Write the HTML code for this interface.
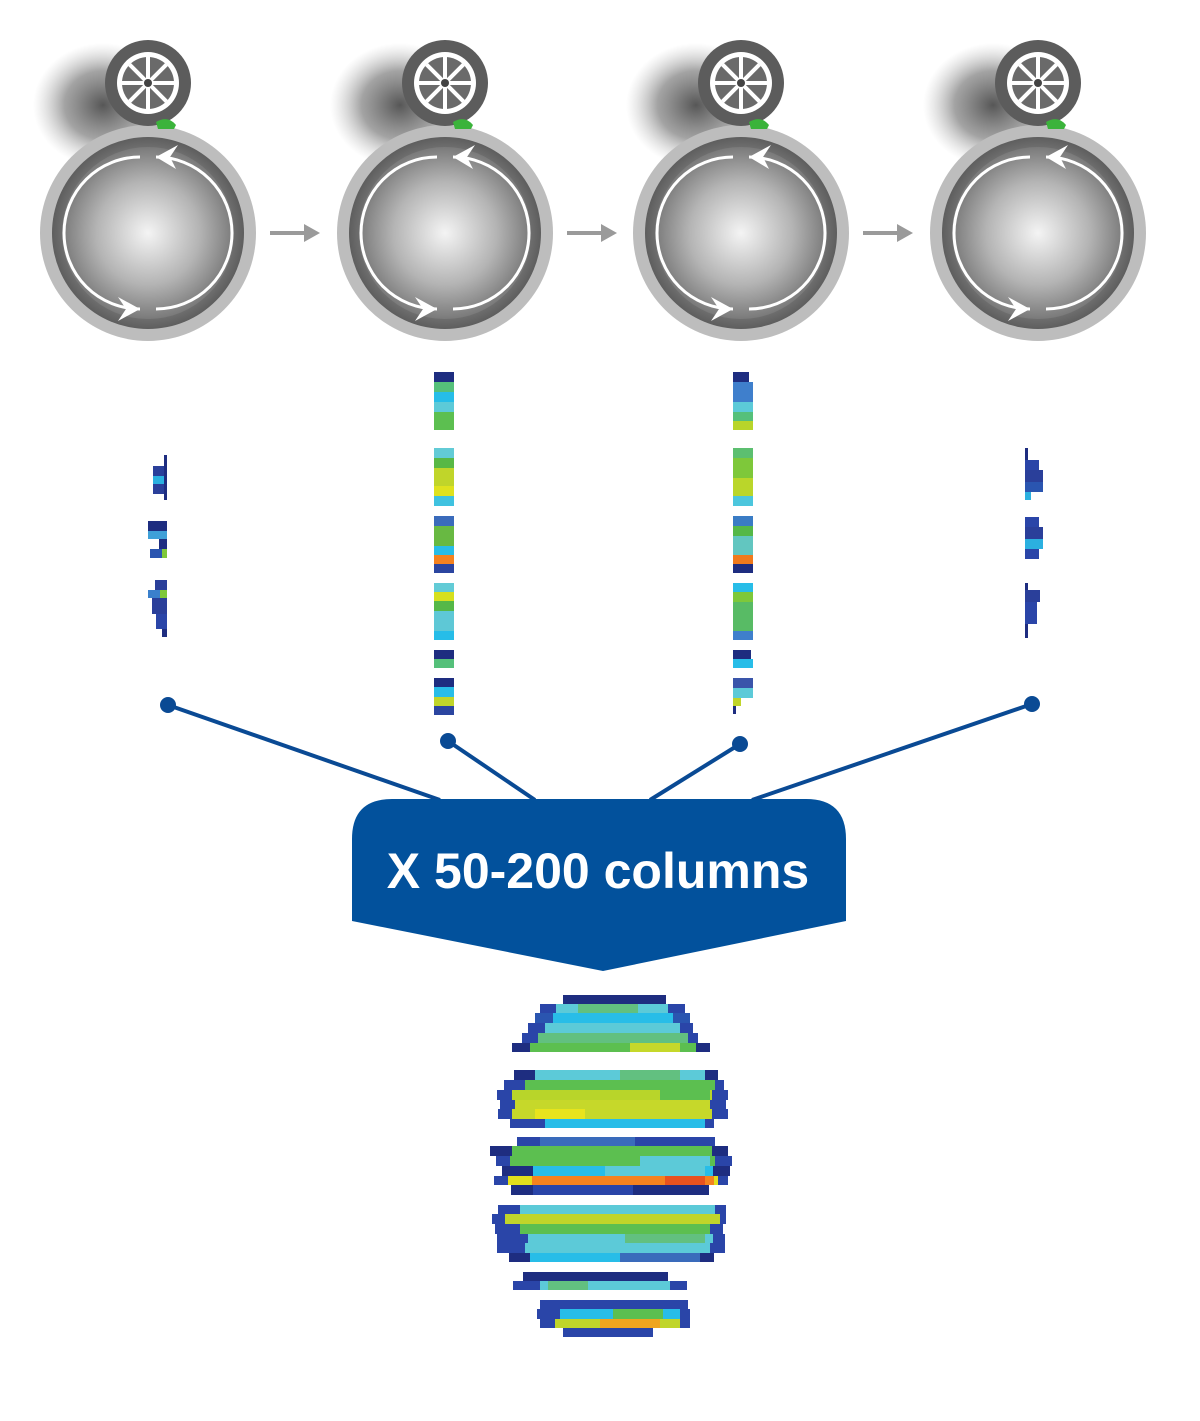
<!DOCTYPE html>
<html><head><meta charset="utf-8"><style>
html,body{margin:0;padding:0;background:#fff;}
svg{display:block}
</style></head><body>
<svg width="1200" height="1421" viewBox="0 0 1200 1421" xmlns="http://www.w3.org/2000/svg">
<defs>
<radialGradient id="core" cx="0.5" cy="0.5" r="0.5">
<stop offset="0" stop-color="#f4f4f4"/><stop offset="0.6" stop-color="#b4b4b4"/><stop offset="1" stop-color="#7a7a7a"/>
</radialGradient>
<radialGradient id="ring" cx="0.5" cy="0.5" r="0.5">
<stop offset="0.7" stop-color="#8a8a8a"/><stop offset="1" stop-color="#5e5e5e"/>
</radialGradient>
<radialGradient id="shadow" cx="0.5" cy="0.5" r="0.5">
<stop offset="0" stop-color="#444" stop-opacity="0.9"/><stop offset="0.55" stop-color="#666" stop-opacity="0.6"/><stop offset="1" stop-color="#aaa" stop-opacity="0"/>
</radialGradient>
<g id="drum">
<ellipse cx="-45" cy="-128" rx="70" ry="62" fill="url(#shadow)"/>
<circle cx="0" cy="0" r="108" fill="#bdbdbd"/>
<circle cx="0" cy="0" r="96" fill="url(#ring)"/>
<circle cx="0" cy="0" r="86" fill="url(#core)"/>
<path d="M -8 -76 A 76 76 0 1 0 -8 76" fill="none" stroke="#fff" stroke-width="3"/>
<path d="M 8 76 A 76 76 0 0 0 8 -76" fill="none" stroke="#fff" stroke-width="3"/>
<polygon points="8,-76 30,-88 22,-76 28,-64" fill="#fff"/>
<polygon points="-8,76 -30,64 -22,76 -30,88" fill="#fff"/>
<circle cx="0" cy="-150" r="43" fill="#5c5c5c"/>
<path d="M 8 -111 Q 20 -118 28 -108 L 26 -104 L 10 -104 Z" fill="#3bb33b"/>
<circle cx="0" cy="-150" r="31" fill="#fff"/>
<circle cx="0" cy="-150" r="26" fill="#6a6a6a"/>
<g stroke="#fff" stroke-width="4">
<line x1="0" y1="-176" x2="0" y2="-124"/><line x1="-26" y1="-150" x2="26" y2="-150"/>
<line x1="-18.4" y1="-168.4" x2="18.4" y2="-131.6"/><line x1="18.4" y1="-168.4" x2="-18.4" y2="-131.6"/>
</g>
<circle cx="0" cy="-150" r="4" fill="#444"/>
</g>
<g id="arr"><rect x="0" y="-2" width="38" height="4" fill="#9a9a9a"/><polygon points="34,-9 50,0 34,9" fill="#9a9a9a"/></g>
</defs>

<use href="#drum" x="148" y="233"/>
<use href="#drum" x="445" y="233"/>
<use href="#drum" x="741" y="233"/>
<use href="#drum" x="1038" y="233"/>
<use href="#arr" x="270" y="233"/>
<use href="#arr" x="567" y="233"/>
<use href="#arr" x="863" y="233"/>

<!-- column 2 -->
<g>
<rect x="434" y="372" width="20" height="10" fill="#1e2d80"/>
<rect x="434" y="382" width="20" height="10" fill="#55c07a"/>
<rect x="434" y="392" width="20" height="10" fill="#26bde8"/>
<rect x="434" y="402" width="20" height="10" fill="#5ccad8"/>
<rect x="434" y="412" width="20" height="18" fill="#5cbf50"/>
<rect x="434" y="448" width="20" height="10" fill="#62cbd6"/>
<rect x="434" y="458" width="20" height="10" fill="#58b845"/>
<rect x="434" y="468" width="20" height="18" fill="#c0d52a"/>
<rect x="434" y="486" width="20" height="10" fill="#dfe21e"/>
<rect x="434" y="496" width="20" height="10" fill="#3fc2e0"/>
<rect x="434" y="516" width="20" height="10" fill="#3a6bbb"/>
<rect x="434" y="526" width="20" height="20" fill="#68b942"/>
<rect x="434" y="546" width="20" height="9" fill="#28bde8"/>
<rect x="434" y="555" width="20" height="9" fill="#f5821f"/>
<rect x="434" y="564" width="20" height="9" fill="#2b45a0"/>
<rect x="434" y="583" width="20" height="9" fill="#62cbd6"/>
<rect x="434" y="592" width="20" height="9" fill="#d6e01e"/>
<rect x="434" y="601" width="20" height="10" fill="#55b848"/>
<rect x="434" y="611" width="20" height="20" fill="#5ec8d6"/>
<rect x="434" y="631" width="20" height="9" fill="#26bde8"/>
<rect x="434" y="650" width="20" height="9" fill="#1e2d80"/>
<rect x="434" y="659" width="20" height="9" fill="#55c07a"/>
<rect x="434" y="678" width="20" height="9" fill="#1e2d80"/>
<rect x="434" y="687" width="20" height="10" fill="#28bde8"/>
<rect x="434" y="697" width="20" height="9" fill="#c0d52a"/>
<rect x="434" y="706" width="20" height="9" fill="#2b45a0"/>
</g>
<!-- column 3 -->
<g>
<rect x="733" y="372" width="16" height="10" fill="#1e2d80"/>
<rect x="733" y="382" width="20" height="20" fill="#3f7fcc"/>
<rect x="733" y="402" width="20" height="10" fill="#5ccad8"/>
<rect x="733" y="412" width="20" height="9" fill="#55c07a"/>
<rect x="733" y="421" width="20" height="9" fill="#b8d52a"/>
<rect x="733" y="448" width="20" height="10" fill="#5cbf70"/>
<rect x="733" y="458" width="20" height="20" fill="#7ec83a"/>
<rect x="733" y="478" width="20" height="18" fill="#bad62a"/>
<rect x="733" y="496" width="20" height="10" fill="#4cc6dd"/>
<rect x="733" y="516" width="20" height="10" fill="#3a7cc5"/>
<rect x="733" y="526" width="20" height="10" fill="#55b848"/>
<rect x="733" y="536" width="20" height="19" fill="#62c6c0"/>
<rect x="733" y="555" width="20" height="9" fill="#f07a1c"/>
<rect x="733" y="564" width="20" height="9" fill="#1e2d80"/>
<rect x="733" y="583" width="20" height="9" fill="#28bde8"/>
<rect x="733" y="592" width="20" height="10" fill="#7ec83a"/>
<rect x="733" y="602" width="20" height="29" fill="#58bb65"/>
<rect x="733" y="631" width="20" height="9" fill="#3f7fcc"/>
<rect x="733" y="650" width="18" height="9" fill="#1e2d80"/>
<rect x="733" y="659" width="20" height="9" fill="#28bde8"/>
<rect x="733" y="678" width="20" height="10" fill="#3a55aa"/>
<rect x="733" y="688" width="20" height="10" fill="#5ccad8"/>
<rect x="733" y="698" width="8" height="8" fill="#c0d52a"/>
<rect x="733" y="706" width="3" height="8" fill="#1e2d80"/>
</g>
<!-- column 1 -->
<g>
<rect x="153" y="466" width="14" height="10" fill="#2a3f9a"/>
<rect x="153" y="476" width="14" height="8" fill="#2bb0e0"/>
<rect x="153" y="484" width="14" height="10" fill="#2a3f9a"/>
<rect x="164" y="455" width="3" height="45" fill="#1e2d80"/>
<rect x="148" y="521" width="19" height="10" fill="#1e2d80"/>
<rect x="148" y="531" width="19" height="8" fill="#3fa0d8"/>
<rect x="159" y="539" width="8" height="10" fill="#1e2d80"/>
<rect x="150" y="549" width="17" height="9" fill="#2a55b0"/>
<rect x="162" y="549" width="5" height="9" fill="#7ec83a"/>
<rect x="155" y="580" width="12" height="10" fill="#2a3f9a"/>
<rect x="148" y="590" width="19" height="8" fill="#3a80cc"/>
<rect x="160" y="590" width="7" height="8" fill="#7ec83a"/>
<rect x="152" y="598" width="15" height="16" fill="#2a3f9a"/>
<rect x="156" y="614" width="11" height="15" fill="#2a45a8"/>
<rect x="162" y="629" width="5" height="8" fill="#1e2d80"/>
</g>
<!-- column 4 -->
<g>
<rect x="1025" y="448" width="3" height="40" fill="#1e2d80"/>
<rect x="1025" y="460" width="14" height="10" fill="#2a45a8"/>
<rect x="1025" y="470" width="18" height="12" fill="#2a3f9a"/>
<rect x="1025" y="482" width="18" height="10" fill="#2a55b0"/>
<rect x="1025" y="492" width="6" height="8" fill="#2bb0e0"/>
<rect x="1025" y="517" width="14" height="10" fill="#2a45a8"/>
<rect x="1025" y="527" width="18" height="12" fill="#2a3f9a"/>
<rect x="1025" y="539" width="18" height="10" fill="#2bb0e0"/>
<rect x="1025" y="549" width="14" height="10" fill="#2a45a8"/>
<rect x="1025" y="583" width="3" height="55" fill="#1e2d80"/>
<rect x="1025" y="590" width="15" height="12" fill="#2a3f9a"/>
<rect x="1025" y="602" width="12" height="22" fill="#2a45a8"/>
</g>

<!-- connectors -->
<g stroke="#0a4a94" stroke-width="4">
<line x1="168" y1="705" x2="440" y2="800"/>
<line x1="448" y1="741" x2="535" y2="800"/>
<line x1="740" y1="744" x2="650" y2="800"/>
<line x1="1032" y1="704" x2="752" y2="800"/>
</g>
<g fill="#0a4a94">
<circle cx="168" cy="705" r="8"/><circle cx="448" cy="741" r="8"/>
<circle cx="740" cy="744" r="8"/><circle cx="1032" cy="704" r="8"/>
</g>
<path d="M 392 799 L 806 799 Q 846 799 846 839 L 846 921 L 603 971 L 352 921 L 352 839 Q 352 799 392 799 Z" fill="#02519c"/>
<text x="598" y="888" text-anchor="middle" font-family="Liberation Sans, sans-serif" font-weight="bold" font-size="50" fill="#fff">X 50-200 columns</text>

<!-- heatmap -->
<g id="heat">
<rect x="563" y="995" width="103" height="9" fill="#1e2d80"/>
<rect x="540" y="1004" width="145" height="9" fill="#2a45a8"/><rect x="556" y="1004" width="112" height="9" fill="#5ccad8"/><rect x="578" y="1004" width="60" height="9" fill="#62c080"/>
<rect x="535" y="1013" width="155" height="10" fill="#2a55b0"/><rect x="553" y="1013" width="120" height="10" fill="#28bde8"/>
<rect x="528" y="1023" width="165" height="10" fill="#2a45a8"/><rect x="545" y="1023" width="135" height="10" fill="#5ccad8"/>
<rect x="522" y="1033" width="176" height="10" fill="#2a45a8"/><rect x="538" y="1033" width="150" height="10" fill="#62c080"/>
<rect x="512" y="1043" width="198" height="9" fill="#1e2d80"/><rect x="530" y="1043" width="166" height="9" fill="#5cbf50"/><rect x="630" y="1043" width="50" height="9" fill="#c6d82a"/>
<rect x="514" y="1070" width="204" height="10" fill="#1e2d80"/><rect x="535" y="1070" width="170" height="10" fill="#5ccad8"/><rect x="620" y="1070" width="60" height="10" fill="#62c080"/>
<rect x="504" y="1080" width="220" height="10" fill="#2a45a8"/><rect x="525" y="1080" width="190" height="10" fill="#5cbf50"/>
<rect x="497" y="1090" width="231" height="10" fill="#2a45a8"/><rect x="512" y="1090" width="200" height="10" fill="#b8d52a"/><rect x="660" y="1090" width="50" height="10" fill="#5cbf50"/>
<rect x="500" y="1100" width="226" height="9" fill="#2a45a8"/><rect x="515" y="1100" width="195" height="9" fill="#c6d82a"/>
<rect x="498" y="1109" width="230" height="10" fill="#2a45a8"/><rect x="512" y="1109" width="200" height="10" fill="#c6d82a"/><rect x="535" y="1109" width="50" height="10" fill="#e8e41c"/>
<rect x="510" y="1119" width="204" height="9" fill="#2a45a8"/><rect x="545" y="1119" width="160" height="9" fill="#28bde8"/>
<rect x="517" y="1137" width="198" height="9" fill="#2a45a8"/><rect x="540" y="1137" width="95" height="9" fill="#3a6bbb"/>
<rect x="490" y="1146" width="238" height="10" fill="#1e2d80"/><rect x="512" y="1146" width="200" height="10" fill="#5cbf50"/>
<rect x="496" y="1156" width="236" height="10" fill="#2a45a8"/><rect x="510" y="1156" width="205" height="10" fill="#5cbf50"/><rect x="640" y="1156" width="70" height="10" fill="#5ccad8"/>
<rect x="502" y="1166" width="228" height="10" fill="#1e2d80"/><rect x="533" y="1166" width="180" height="10" fill="#28bde8"/><rect x="605" y="1166" width="100" height="10" fill="#5ccad8"/>
<rect x="494" y="1176" width="234" height="9" fill="#2a45a8"/><rect x="508" y="1176" width="210" height="9" fill="#e2de1c"/><rect x="532" y="1176" width="182" height="9" fill="#f5821f"/><rect x="665" y="1176" width="40" height="9" fill="#e8521f"/>
<rect x="511" y="1185" width="198" height="10" fill="#1e2d80"/><rect x="533" y="1185" width="100" height="10" fill="#2a45a8"/>
<rect x="498" y="1205" width="228" height="9" fill="#2a45a8"/><rect x="520" y="1205" width="195" height="9" fill="#5ccad8"/>
<rect x="492" y="1214" width="234" height="10" fill="#2a45a8"/><rect x="505" y="1214" width="215" height="10" fill="#c0d52a"/>
<rect x="495" y="1224" width="228" height="10" fill="#2a45a8"/><rect x="520" y="1224" width="190" height="10" fill="#5cbf50"/>
<rect x="497" y="1234" width="228" height="9" fill="#2a45a8"/><rect x="528" y="1234" width="185" height="9" fill="#5ccad8"/><rect x="625" y="1234" width="80" height="9" fill="#62c080"/>
<rect x="497" y="1243" width="228" height="10" fill="#2a45a8"/><rect x="525" y="1243" width="185" height="10" fill="#5ccad8"/>
<rect x="509" y="1253" width="205" height="9" fill="#1e2d80"/><rect x="530" y="1253" width="90" height="9" fill="#28bde8"/><rect x="620" y="1253" width="80" height="9" fill="#3a6bbb"/>
<rect x="523" y="1272" width="145" height="9" fill="#1e2d80"/>
<rect x="513" y="1281" width="174" height="9" fill="#2a45a8"/><rect x="540" y="1281" width="130" height="9" fill="#5ccad8"/><rect x="548" y="1281" width="40" height="9" fill="#62c080"/>
<rect x="540" y="1300" width="148" height="9" fill="#2a45a8"/>
<rect x="537" y="1309" width="153" height="10" fill="#2a45a8"/><rect x="560" y="1309" width="120" height="10" fill="#28bde8"/><rect x="613" y="1309" width="50" height="10" fill="#5cbf50"/>
<rect x="540" y="1319" width="150" height="9" fill="#2a45a8"/><rect x="555" y="1319" width="125" height="9" fill="#c0d52a"/><rect x="600" y="1319" width="60" height="9" fill="#f0a51f"/>
<rect x="563" y="1328" width="90" height="9" fill="#2a45a8"/>
</g>
</svg>
</body></html>
